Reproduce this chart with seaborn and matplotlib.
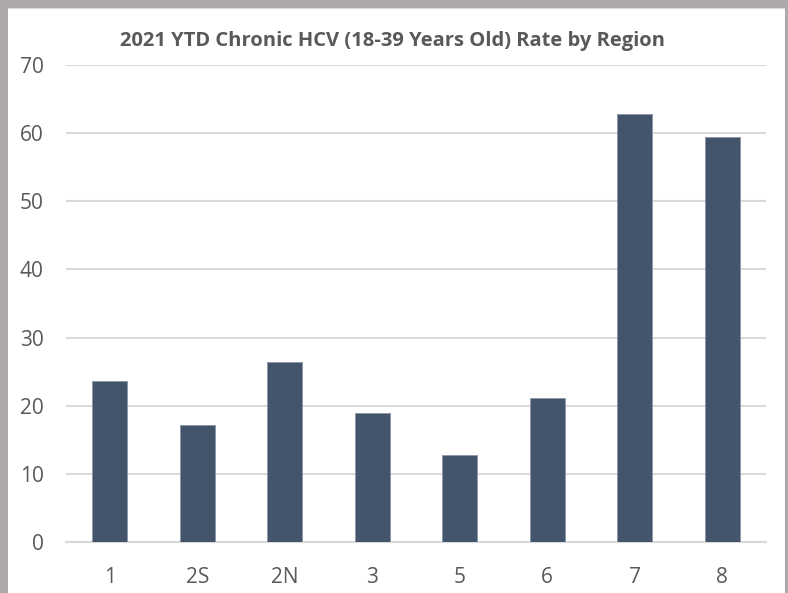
import matplotlib
matplotlib.use("Agg")
import matplotlib.pyplot as plt
import seaborn as sns
import pandas as pd
from matplotlib.patches import Rectangle

# 各区域数据
regions = ["1", "2S", "2N", "3", "5", "6", "7", "8"]
rates = [23.6, 17.2, 26.4, 19.0, 12.8, 21.1, 62.8, 59.4]
y_ticks = [0, 10, 20, 30, 40, 50, 60, 70]
title = "2021 YTD Chronic HCV (18-39 Years Old) Rate by Region"

sns.set_theme(style="white")
plt.rcParams['font.family'] = ['Open Sans', 'DejaVu Sans']

W, H = 788, 593
fig = plt.figure(figsize=(W / 100, H / 100), dpi=100)
fig.patch.set_facecolor("#ADA9A8")
# 白色画布 (灰色边框在左、上、右), zorder放在坐标轴下面
fig.patches.append(Rectangle((8 / W, 0), (785 - 8) / W, (H - 9) / H,
                             transform=fig.transFigure, facecolor="white",
                             edgecolor="none", zorder=-10))
fig.patches.append(Rectangle((8 / W, (H - 9) / H), (785 - 8) / W, 1.5 / H,
                             transform=fig.transFigure, facecolor="#D9D9D9",
                             edgecolor="none", zorder=-10))

ax = fig.add_axes([66 / W, (H - 542) / H, (766 - 66) / W, (542 - 65) / H])
ax.set_facecolor("none")

df = pd.DataFrame({"region": regions, "rate": rates})
sns.barplot(data=df, x="region", y="rate", color="#44546A", saturation=1,
            width=0.4, edgecolor="#8A97A8", linewidth=0.6, ax=ax, zorder=3)

ax.set_ylim(0, 70)
ax.set_xlim(-0.5, len(regions) - 0.5)
ax.set_yticks(y_ticks)
ax.yaxis.grid(True, color="#D9D9D9", linewidth=1.5, zorder=0)
ax.set_axisbelow(True)
for s in ["top", "right", "left"]:
    ax.spines[s].set_visible(False)
ax.spines["bottom"].set_color("#D9D9D9")
ax.spines["bottom"].set_linewidth(1.5)
ax.tick_params(axis="both", length=0, labelsize=15, labelcolor="#595959")
ax.tick_params(axis="x", pad=18)
ax.tick_params(axis="y", pad=16)
ax.set_xlabel("")
ax.set_ylabel("")

fig.text(393 / W, 1 - 41 / H, title, ha="center", va="center",
         fontsize=14.5, fontweight="bold", color="#595959")

fig.savefig("out.png", dpi=100, facecolor=fig.get_facecolor())
